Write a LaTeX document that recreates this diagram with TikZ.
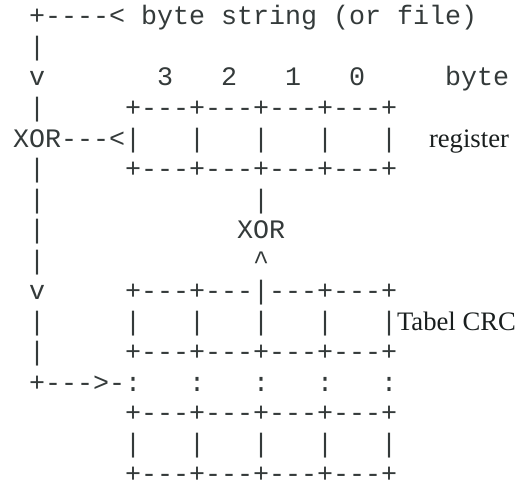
\documentclass[tikz,border=0pt]{standalone}
\usepackage{fontspec}
\setmonofont{Liberation Mono}
\newfontfamily\serifx{Liberation Serif}
\definecolor{ink}{RGB}{52,58,58}
\definecolor{inkdark}{RGB}{25,30,30}
\begin{document}
\begin{tikzpicture}[x=1pt,y=1pt,
  asciirow/.style={anchor=base west,inner sep=0pt,outer sep=0pt,text=ink,
    font=\ttfamily\fontsize{26.67}{30.5}\selectfont},
  serifnote/.style={anchor=base west,inner sep=0pt,outer sep=0pt,text=inkdark,
    font=\serifx\fontsize{26.67}{30.5}\selectfont}]
\useasboundingbox (0,0) rectangle (524,483);
\def\rowy#1{458-(#1-1)*30.5}
\node[asciirow] (r1)  at (13,{\rowy{1}})  {~+----< byte string (or file)};
\node[asciirow] (r2)  at (13,{\rowy{2}})  {~|};
\node[asciirow] (r3)  at (13,{\rowy{3}})  {~v~~~~~~~3~~~2~~~1~~~0~~~~~byte};
\node[asciirow] (r4)  at (13,{\rowy{4}})  {~|~~~~~+---+---+---+---+};
\node[asciirow] (r5)  at (13,{\rowy{5}})  {XOR---<|~~~|~~~|~~~|~~~|};
\node[serifnote] (reg) at (429,{\rowy{5}}) {register};
\node[asciirow] (r6)  at (13,{\rowy{6}})  {~|~~~~~+---+---+---+---+};
\node[asciirow] (r7)  at (13,{\rowy{7}})  {~|~~~~~~~~~~~~~|};
\node[asciirow] (r8)  at (13,{\rowy{8}})  {~|~~~~~~~~~~~~XOR};
\node[asciirow] (r9)  at (13,{\rowy{9}})  {~|~~~~~~~~~~~~~\textasciicircum};
\node[asciirow] (r10) at (13,{\rowy{10}}) {~v~~~~~+---+---|---+---+};
\node[asciirow] (r11) at (13,{\rowy{11}}) {~|~~~~~|~~~|~~~|~~~|~~~|};
\node[serifnote] (crc) at (397,{\rowy{11}}) {Tabel CRC};
\node[asciirow] (r12) at (13,{\rowy{12}}) {~|~~~~~+---+---+---+---+};
\node[asciirow] (r13) at (13,{\rowy{13}}) {~+--->-:~~~:~~~:~~~:~~~:};
\node[asciirow] (r14) at (13,{\rowy{14}}) {~~~~~~~+---+---+---+---+};
\node[asciirow] (r15) at (13,{\rowy{15}}) {~~~~~~~|~~~|~~~|~~~|~~~|};
\node[asciirow] (r16) at (13,{\rowy{16}}) {~~~~~~~+---+---+---+---+};
\end{tikzpicture}
\end{document}
